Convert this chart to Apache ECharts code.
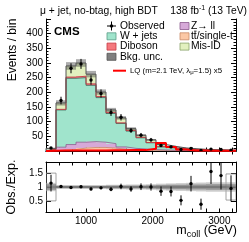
<!DOCTYPE html>
<html><head><meta charset="utf-8">
<script src="https://cdn.jsdelivr.net/npm/echarts@6/dist/echarts.min.js"></script>
<style>html,body{margin:0;padding:0;background:#fff}#c{width:249px;height:242px}</style>
</head><body><div id="c"></div>
<script>
// ---------------- data ----------------
const binEdges = [400,550,700,850,1000,1150,1300,1450,1600,1750,1900,2050,2200,2350,2500,2650,2800,2950,3100,3250];
const ttbar    = [1,3,5,10,12,12,10,6,4,3,2,1.5,1,0.8,0.5,0.4,0.3,0.2,0.2];
const zll      = [2,10,17,20,20,18,15,8,5,4,3,2,1.5,1,0.8,0.6,0.5,0.4,0.3];
const wjets    = [3,127,226,220,192,152,103,80,59,38,23,10.5,7.5,5.2,3.7,3,2.2,1.9,1.5];
const diboson  = [0.5,2,4,5,5,4,3,2,2,1.5,1,1,0.7,0.5,0.4,0.3,0.2,0.2,0.1];
const misid    = [2.5,22,38,45,33,15,9,17,6,7,9,7,5,3,2.5,1.5,1,0.8,0.6];
const bkgUnc   = [1.5,9,13,13,11,9,7,6,5,4,3,2.5,2,1.5,1.2,1,0.8,0.7,0.6];
const observed = [10,172,282,297,242,196,131,115,70,54,38,19,14,5.5,9,2.2,6.5,5,2.6];
const obsErr   = [3.2,13,17,17,16,14,11.5,11,8.5,7.5,6.5,4.5,4,2.5,3,1.5,2.5,2.2,1.6];
const lqSignal = [1,1.5,2,2,2,2,2.5,2.5,3,3,8,27,14,5,2,1.5,1,1,0.5];
const ratio    = [1.14,1.02,0.98,1.01,0.93,0.97,0.92,1.02,0.93,1.01,1.0,0.85,0.84,0.52,1.12,0.38,1.56,1.41,0.95];
const ratioErr = [0.3,0.04,0.04,0.04,0.05,0.05,0.07,0.1,0.1,0.12,0.13,0.17,0.18,0.18,0.28,0.2,0.45,0.5,0.47];
const bandInner= [0.1,0.04,0.04,0.04,0.04,0.04,0.05,0.05,0.05,0.05,0.06,0.07,0.08,0.08,0.09,0.09,0.1,0.1,0.1];
const bandOuter= [0.15,0.07,0.07,0.07,0.07,0.07,0.08,0.08,0.09,0.09,0.1,0.12,0.13,0.14,0.15,0.16,0.17,0.17,0.17];
const bandEdge = [0.5,0,0,0,0,0,0,0,0,0,0,0,0,0,0,0,0,0,0.47];
const xTickValues = [600,800,1000,1200,1400,1600,1800,2000,2200,2400,2600,2800,3000,3200];
const xLabelValues = [1000,2000,3000];
const ratioLabelValues = [0.5,1,1.5];

// ---------------- helpers ----------------
const FONT = '"Liberation Sans", Arial, Helvetica, sans-serif';
const nB = binEdges.length - 1;
const centers = binEdges.slice(0,-1).map((e,i)=>(e+binEdges[i+1])/2);
function cumul(arrs){ return binEdges.slice(0,-1).map((_,i)=>arrs.reduce((s,a)=>s+a[i],0)); }
const c1 = cumul([ttbar]);
const c2 = cumul([ttbar,zll]);
const c3 = cumul([ttbar,zll,wjets]);
const c4 = cumul([ttbar,zll,wjets,diboson]);
const c5 = cumul([ttbar,zll,wjets,diboson,misid]);
const zero = c1.map(()=>0);

function rectSeries(lo, hi, fill, stroke, xi, yi){
  const data = lo.map((l,i)=>[binEdges[i], binEdges[i+1], l, hi[i]]);
  return {type:'custom', xAxisIndex:xi, yAxisIndex:yi, silent:true, animation:false, clip:true,
    encode:{x:[0,1], y:[2,3]}, data,
    renderItem:(params, api)=>{
      const p0 = api.coord([api.value(0), api.value(2)]);
      const p1 = api.coord([api.value(1), api.value(3)]);
      return {type:'rect', shape:{x:p0[0], y:p1[1], width:p1[0]-p0[0], height:p0[1]-p1[1]},
        style:{fill:fill, stroke:stroke||null, lineWidth:stroke?0.8:0}};
    }};
}
function stepPoints(vals){
  const pts = [[binEdges[0],0]];
  vals.forEach((v,i)=>{ pts.push([binEdges[i],v]); pts.push([binEdges[i+1],v]); });
  pts.push([binEdges[nB],0]);
  return pts;
}
function stepSeries(vals, color, width, xi, yi){
  return {type:'line', xAxisIndex:xi, yAxisIndex:yi, data:stepPoints(vals), showSymbol:false, symbol:'none',
    silent:true, animation:false, lineStyle:{color:color, width:width}, z:3};
}
function pointSeries(xs, ys, es, xi, yi, yminClip){
  return {type:'custom', xAxisIndex:xi, yAxisIndex:yi, silent:true, animation:false, clip:true, z:5,
    encode:{x:0, y:1}, data: xs.map((x,i)=>[x, ys[i], es[i]]),
    renderItem:(params, api)=>{
      const x=api.value(0), y=api.value(1), e=api.value(2);
      const p = api.coord([x,y]);
      const pt = api.coord([x,y+e]);
      const pb = api.coord([x,Math.max(y-e,yminClip)]);
      return {type:'group', children:[
        {type:'line', shape:{x1:p[0],y1:pt[1],x2:p[0],y2:pb[1]}, style:{stroke:'#000', lineWidth:1}},
        {type:'circle', shape:{cx:p[0],cy:p[1],r:1.7}, style:{fill:'#000'}}
      ]};
    }};
}
const ctx = document.createElement('canvas').getContext('2d');
function tw(t, size, weight){ ctx.font = (weight||'normal')+' '+size+'px '+FONT; return ctx.measureText(t).width; }
// pieces: {t, s (font size), dy, w}
function textRun(pieces, x, y, align){
  const total = pieces.reduce((s,p)=>s+tw(p.t,p.s,p.w),0);
  let cx = align==='right' ? x-total : x;
  const out = [];
  pieces.forEach(p=>{
    out.push({type:'text', x:cx, y:y+(p.dy||0), silent:true, style:{text:p.t, fontSize:p.s, fontWeight:p.w||'normal',
      fontFamily:FONT, fill:'#000', align:'left', verticalAlign:'middle'}});
    cx += tw(p.t,p.s,p.w);
  });
  return out;
}

// ---------------- colors ----------------
const COL = {tt:'#fcc8a5', zll:'#d6a9d8', wj:'#a0e4cc', db:'#f5787d', mis:'#e2f0bf', unc:'#7f7f7f', lq:'#ff0000'};

// ---------------- axes ----------------
const axisLineStyle = {show:true, lineStyle:{color:'#000', width:1}};
const GRID_MAIN = {left:46, right:13, top:19, height:132};
const GRID_RATIO = {left:46, right:13, top:162, height:50};

function xAx(grid, pos, labels){
  return {type:'value', gridIndex:grid, position:pos, min:binEdges[0], max:binEdges[nB],
    axisLine:axisLineStyle, splitLine:{show:false},
    axisTick:{show:true, inside:true, length:3.5, customValues:xTickValues, lineStyle:{color:'#000'}},
    axisLabel: labels ? {show:true, customValues:xLabelValues, formatter:v=>String(v), fontSize:10, fontFamily:FONT, color:'#000', margin:4}
                      : {show:false}};
}

const option = {
  animation:false,
  backgroundColor:'#fff',
  grid:[Object.assign({outerBoundsMode:'none'},GRID_MAIN), Object.assign({outerBoundsMode:'none'},GRID_RATIO)],
  xAxis:[ xAx(0,'bottom',false), xAx(0,'top',false), xAx(1,'bottom',true), xAx(1,'top',false) ],
  yAxis:[
    {type:'value', gridIndex:0, position:'left', min:0, max:450, interval:50, axisLine:axisLineStyle, splitLine:{show:false},
      axisTick:{show:true, inside:true, length:5, lineStyle:{color:'#000'}},
      minorTick:{show:true, splitNumber:5, length:2.5, lineStyle:{color:'#000'}},
      axisLabel:{formatter:v=>(v===0||v===450)?'':String(v), fontSize:10, fontFamily:FONT, color:'#000', margin:3}},
    {type:'value', gridIndex:0, position:'right', min:0, max:450, interval:50, axisLine:axisLineStyle, splitLine:{show:false},
      axisTick:{show:true, inside:true, length:5, lineStyle:{color:'#000'}},
      minorTick:{show:true, splitNumber:5, length:2.5, lineStyle:{color:'#000'}},
      axisLabel:{show:false}},
    {type:'value', gridIndex:1, position:'left', min:0.1, max:1.9, axisLine:axisLineStyle, splitLine:{show:false},
      axisTick:{show:true, inside:true, length:5, customValues:ratioLabelValues, lineStyle:{color:'#000'}},
      axisLabel:{customValues:ratioLabelValues, formatter:v=>String(v), fontSize:10, fontFamily:FONT, color:'#000', margin:3}},
    {type:'value', gridIndex:1, position:'right', min:0.1, max:1.9, axisLine:axisLineStyle, splitLine:{show:false},
      axisTick:{show:true, inside:true, length:5, customValues:ratioLabelValues, lineStyle:{color:'#000'}},
      axisLabel:{show:false}}
  ],
  series:[
    rectSeries(zero, c1, COL.tt, null, 0, 0),
    rectSeries(c1, c2, COL.zll, null, 0, 0),
    rectSeries(c2, c3, COL.wj, null, 0, 0),
    rectSeries(c3, c4, COL.db, null, 0, 0),
    rectSeries(c4, c5, COL.mis, null, 0, 0),
    stepSeries(c1, '#c98a68', 0.8, 0, 0),
    stepSeries(c2, '#8c5a8e', 0.8, 0, 0),
    stepSeries(c3, '#3f6b5c', 0.9, 0, 0),
    stepSeries(c4, '#c43a44', 0.9, 0, 0),
    stepSeries(c5, '#555', 1, 0, 0),
    rectSeries(c5.map((v,i)=>v-bkgUnc[i]), c5.map((v,i)=>v+bkgUnc[i]), 'rgba(70,70,70,0.45)', null, 0, 0),
    Object.assign(stepSeries(lqSignal, COL.lq, 2, 0, 0), {z:4}),
    pointSeries(centers, observed, obsErr, 0, 0, 0),
    // ratio panel
    rectSeries(bandEdge.map(v=>1-v), bandEdge.map(v=>1+v), 'rgba(0,0,0,0)', '#8a8a8a', 2, 2),
    rectSeries(bandOuter.map(v=>1-v), bandOuter.map(v=>1+v), 'rgba(170,170,170,0.6)', null, 2, 2),
    rectSeries(bandInner.map(v=>1-v), bandInner.map(v=>1+v), 'rgba(110,110,110,0.6)', null, 2, 2),
    {type:'line', xAxisIndex:2, yAxisIndex:2, data:[[binEdges[0],1],[binEdges[nB],1]], showSymbol:false, symbol:'none', silent:true,
      lineStyle:{color:'#666', width:0.8}},
    pointSeries(centers, ratio, ratioErr, 2, 2, 0.1)
  ],
  graphic:[]
};

// ---------------- texts & legend ----------------
const G = [];
G.push({type:'text', x:40, y:11.5, silent:true,
  style:{text:'\u03bc + jet, no-btag, high BDT', fontSize:10.3, fontFamily:FONT, fill:'#000', align:'left', verticalAlign:'middle'}});
G.push(...textRun([{t:'138 fb', s:10.3},{t:'-1', s:7, dy:-3.5},{t:' (13 TeV)', s:10.3}], 247, 11.5, 'right'));
G.push(...textRun([{t:'CMS', s:11.5, w:'bold'}], 54, 32, 'left'));
// y titles
G.push({type:'text', x:13, y:50, rotation:Math.PI/2, silent:true,
  style:{text:'Events / bin', fontSize:12, fontFamily:FONT, fill:'#000', align:'center', verticalAlign:'middle'}});
G.push({type:'text', x:12, y:187, rotation:Math.PI/2, silent:true,
  style:{text:'Obs./Exp.', fontSize:12.5, fontFamily:FONT, fill:'#000', align:'center', verticalAlign:'middle'}});
// x title
G.push(...textRun([{t:'m', s:12.5},{t:'coll', s:9, dy:3.5},{t:' (GeV)', s:12.5}], 237, 231, 'right'));

// legend
const rows = [26, 36.3, 46.6, 56.8];
const LF = 10.3;
function legBox(x, y, fill, stroke){
  return {type:'rect', silent:true, shape:{x:x, y:y-3.5, width:9, height:7}, style:{fill:fill, stroke:stroke, lineWidth:0.8}};
}
function legText(t, x, y){
  return {type:'text', x:x, y:y, silent:true, style:{text:t, fontSize:LF, fontFamily:FONT, fill:'#000', align:'left', verticalAlign:'middle'}};
}
// Observed marker
G.push({type:'line', silent:true, shape:{x1:107, y1:rows[0], x2:116, y2:rows[0]}, style:{stroke:'#000', lineWidth:1}});
G.push({type:'line', silent:true, shape:{x1:111.5, y1:rows[0]-4.5, x2:111.5, y2:rows[0]+4.5}, style:{stroke:'#000', lineWidth:1}});
G.push({type:'circle', silent:true, shape:{cx:111.5, cy:rows[0], r:1.7}, style:{fill:'#000'}});
G.push(legText('Observed', 120, rows[0]));
G.push(legBox(107, rows[1], COL.wj, '#5a9c86'));
G.push(legText('W + jets', 120, rows[1]));
G.push(legBox(107, rows[2], COL.db, '#c43a44'));
G.push(legText('Diboson', 120, rows[2]));
G.push(legBox(107, rows[3], COL.unc, '#555'));
G.push(legText('Bkg. unc.', 120, rows[3]));
G.push(legBox(180, rows[0], COL.zll, '#8c5a8e'));
G.push(legText('Z\u2192 ll', 191, rows[0]));
G.push(legBox(180, rows[1], COL.tt, '#c98a68'));
G.push(legText('tt/single-t', 191, rows[1]));
// bar over the second t (anti-top)
const t1w = tw('t', LF), t2x = 191 + t1w;
G.push({type:'line', silent:true, shape:{x1:t2x+0.2, y1:rows[1]-LF*0.5, x2:t2x+t1w-0.2, y2:rows[1]-LF*0.5}, style:{stroke:'#000', lineWidth:0.8}});
G.push(legBox(180, rows[2], COL.mis, '#8aa26a'));
G.push(legText('Mis-ID', 191, rows[2]));
// LQ legend
G.push({type:'line', silent:true, shape:{x1:113, y1:70.7, x2:126, y2:70.7}, style:{stroke:COL.lq, lineWidth:2}});
G.push(...textRun([{t:'LQ (m=2.1 TeV, \u03bb', s:7.8},{t:'\u03bc', s:6, dy:2},{t:'=1.5) x5', s:7.8}], 130, 70.7, 'left'));
option.graphic = G;

const chart = echarts.init(document.getElementById('c'), null, {renderer:'canvas', width:249, height:242});
chart.setOption(option);
</script>
</body></html>
